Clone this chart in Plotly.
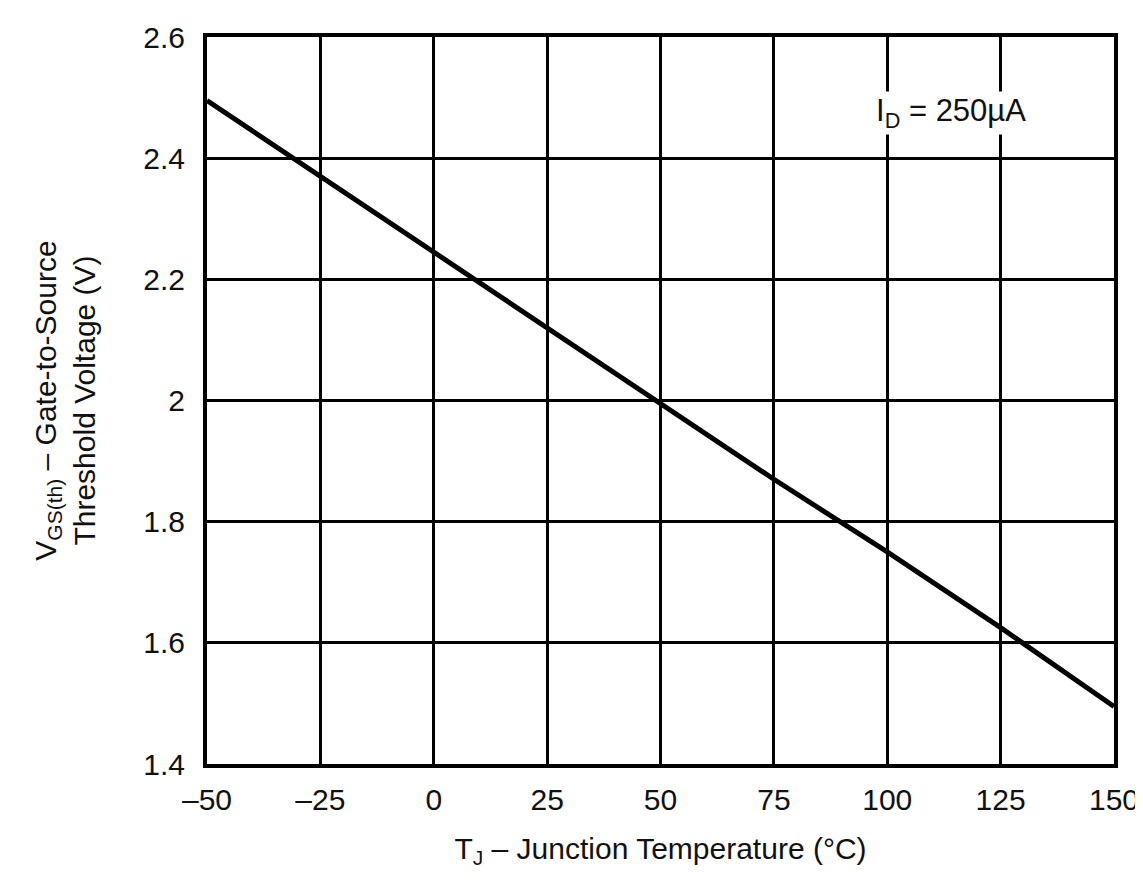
import plotly.graph_objects as go

temps = [-50, -25, 0, 25, 50, 75, 100, 125, 150]
vth = [2.495, 2.37, 2.245, 2.12, 1.995, 1.87, 1.75, 1.625, 1.495]

x_ticks = [-50, -25, 0, 25, 50, 75, 100, 125, 150]
x_labels = ["–50", "–25", "0", "25", "50", "75", "100", "125", "150"]
y_ticks = [1.4, 1.6, 1.8, 2.0, 2.2, 2.4, 2.6]
y_labels = ["1.4", "1.6", "1.8", "2", "2.2", "2.4", "2.6"]

font = "Liberation Sans, Arial, sans-serif"
fsize = 30

fig = go.Figure()
fig.add_trace(go.Scatter(x=temps, y=vth, mode="lines",
                         line=dict(color="black", width=5), showlegend=False))

fig.add_annotation(x=114, y=2.474, xref="x", yref="y",
                   text="I<sub>D</sub> = 250µA", showarrow=False,
                   font=dict(family=font, size=31, color="#111"),
                   bgcolor="white")

fig.update_xaxes(range=[-50, 150], tickvals=x_ticks, ticktext=x_labels,
                 showgrid=True, gridcolor="black", gridwidth=3,
                 showline=True, linecolor="black", linewidth=4, mirror=True,
                 zeroline=False, ticks="", ticklabelstandoff=6,
                 tickfont=dict(family=font, size=fsize, color="#111"),
                 title=dict(text="T<sub>J</sub> – Junction Temperature (°C)",
                            font=dict(family=font, size=fsize, color="#111"), standoff=24))
fig.update_yaxes(range=[1.4, 2.6], tickvals=y_ticks, ticktext=y_labels,
                 showgrid=True, gridcolor="black", gridwidth=3,
                 showline=True, linecolor="black", linewidth=4, mirror=True,
                 zeroline=False, ticks="", ticklabelstandoff=12,
                 tickfont=dict(family=font, size=fsize, color="#111"),
                 title=dict(text="V<sub>GS(th)</sub> – Gate-to-Source<br>Threshold Voltage (V)",
                            font=dict(family=font, size=fsize, color="#111"), standoff=40))

fig.update_layout(width=1143, height=886, plot_bgcolor="white", paper_bgcolor="white",
                  margin=dict(l=199, r=32, t=23, b=130), font=dict(family=font))

fig.write_html("out.html")
